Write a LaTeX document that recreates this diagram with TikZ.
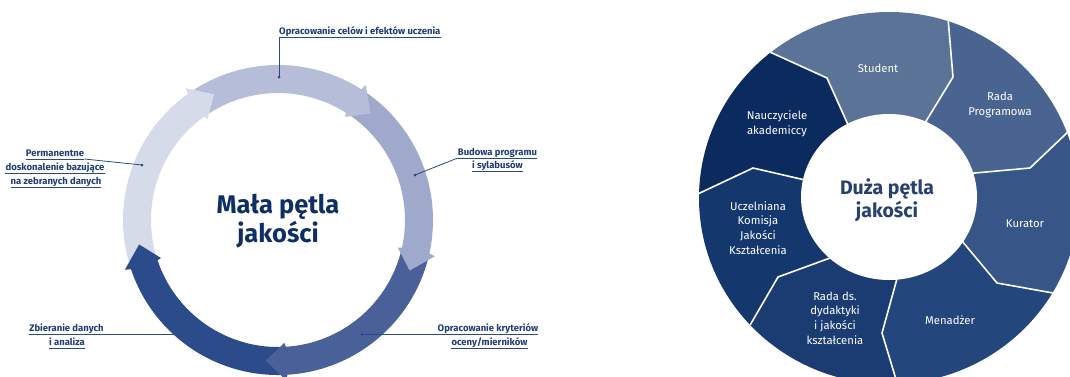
\documentclass[tikz,border=0pt]{standalone}
\usepackage{fontspec}
\setmainfont{Fira Sans}
\usetikzlibrary{calc}
\definecolor{labelc}{HTML}{1F3D75}
\definecolor{linec}{HTML}{2A4A80}
\definecolor{titlec}{HTML}{0E2E68}
\definecolor{titlecb}{HTML}{26406F}
\definecolor{ringA}{HTML}{D6DBEA}
\definecolor{ringB}{HTML}{B5BDD9}
\definecolor{ringC}{HTML}{9FA9CC}
\definecolor{ringD}{HTML}{4A6098}
\definecolor{ringE}{HTML}{2C4B8B}
\definecolor{segA}{HTML}{5A7396}
\definecolor{segB}{HTML}{4A6491}
\definecolor{segC}{HTML}{375587}
\definecolor{segD}{HTML}{23467D}
\definecolor{segE}{HTML}{1A3C73}
\definecolor{segF}{HTML}{14376E}
\definecolor{segG}{HTML}{0B2B5F}
\begin{document}
\begin{tikzpicture}[x=1pt,y=-1pt,
  lbl/.style={font=\fontsize{9.5}{10}\selectfont\bfseries, text=labelc, inner sep=0pt, anchor=base},
  ul/.style={draw=linec, line width=0.8pt},
  dot/.style={circle, fill=linec, inner sep=0pt, minimum size=3pt},
  seglbl/.style={font=\fontsize{11.3}{14.7}\selectfont, text=white, align=center, inner sep=0pt},
  sepline/.style={draw=white, line width=1.6pt, line join=round},
  ]
\useasboundingbox (0,0) rectangle (1070,376);
\fill[white] (0,0) rectangle (1070,376);

% ---------------- left: small loop ----------------
\begin{scope}[shift={(278pt,-220pt)}, y=1pt]
  % bodies
  \foreach \s/\b/\c in {198/125/ringA, 125/57/ringB, 57/-13/ringC, -13/-87/ringD, -87/-162/ringE}{
    \fill[\c] (\s:127) arc[start angle=\s, end angle=\b, radius=127]
      -- (\b:155) arc[start angle=\b, end angle=\s, radius=155] -- cycle;
  }
  % heads
  \foreach \b/\t/\c in {125/117/ringA, 57/49/ringB, -13/-21/ringC, -87/-95/ringD, -162/-170/ringE}{
    \fill[\c] (\b+0.5:127) -- (\b:123) -- (\t:141) -- (\b:161) -- (\b+0.5:155) -- cycle;
  }
\end{scope}
\node[font=\fontsize{25.5}{29}\selectfont\bfseries, text=titlec, align=center] (T1) at (278,221) {Mała pętla\\jakości};

% labels
\node[lbl, anchor=base west] (t1) at (279,34.5) {Opracowanie celów i efektów uczenia};
\node[dot] (d1) at (279,77) {};
\draw[ul] ([yshift=-3pt]t1.base west) -- ([yshift=-3pt]t1.base east);
\draw[ul] ([yshift=-3pt]t1.base west) -- (d1.center);

\node[lbl] (t2a) at (497.5,155) {Budowa programu};
\node[lbl] (t2b) at (497.5,168) {i sylabusów};
\node[dot] (d2) at (415,175) {};
\draw[ul] ([yshift=-3pt]t2a.base west) -- ([yshift=-3pt]t2a.base east);
\draw[ul] ([yshift=-3pt]t2b.base west) -- ([yshift=-3pt]t2b.base east);
\draw[ul] (d2.center) -- ([yshift=-3pt]t2a.base west);

\node[lbl] (t3a) at (55,156) {Permanentne};
\node[lbl] (t3b) at (55,170) {doskonalenie bazujące};
\node[lbl] (t3c) at (56,184) {na zebranych danych};
\node[dot] (d3) at (142,165) {};
\draw[ul] ([yshift=-3pt]t3a.base west) -- ([yshift=-3pt]t3a.base east);
\draw[ul] ([yshift=-3pt]t3b.base west) -- ([yshift=-3pt]t3b.base east);
\draw[ul] ([yshift=-3pt]t3c.base west) -- ([yshift=-3pt]t3c.base east);
\draw[ul] ([yshift=-3pt]t3a.base east) -- (d3.center);

\node[lbl] (t4a) at (66.5,331) {Zbieranie danych};
\node[lbl] (t4b) at (67,345) {i analiza};
\node[dot] (d4) at (195,334) {};
\draw[ul] ([yshift=-3pt]t4a.base west) -- (d4.center);
\draw[ul] ([yshift=-3pt]t4b.base west) -- ([yshift=-3pt]t4b.base east);

\node[lbl] (t5a) at (488,331) {Opracowanie kryteriów};
\node[lbl] (t5b) at (489.5,345) {oceny/mierników};
\node[dot] (d5) at (362,334) {};
\draw[ul] (d5.center) -- ([yshift=-3pt]t5a.base east);
\draw[ul] ([yshift=-3pt]t5b.base west) -- ([yshift=-3pt]t5b.base east);

% ---------------- right: big loop ----------------
\coordinate (C) at (889,198);
\coordinate (i1) at (850.4,130);  \coordinate (m1) at (827,78);   \coordinate (o1) at (744.5,40.5);
\coordinate (i2) at (920.5,130.3); \coordinate (m2) at (953,77);  \coordinate (o2) at (945.5,-11.5);
\coordinate (i3) at (953,175);    \coordinate (m3) at (1030,168); \coordinate (o3) at (1110,92);
\coordinate (i4) at (955,232.6);  \coordinate (m4) at (997,283);  \coordinate (o4) at (1109,303);
\coordinate (i5) at (902.8,257.6); \coordinate (m5) at (882,333); \coordinate (o5) at (908,419);
\coordinate (i6) at (845.6,252.3); \coordinate (m6) at (778,277); \coordinate (o6) at (728,363);
\coordinate (i7) at (820.6,183.6); \coordinate (m7) at (753,168); \coordinate (o7) at (651,216);
\coordinate (f1) at (794,-191);
\coordinate (f2) at (1145,-110);
\coordinate (f3) at (1289,198);
\coordinate (f4) at (1117,527);
\coordinate (f5) at (754,575);
\coordinate (f6) at (527,367);
\coordinate (f7) at (517,51);
\begin{scope}
  \clip (889,198) ellipse [x radius=190, y radius=186];
  \fill[segA] (C) -- (i1) -- (m1) -- (o1) -- (f1) -- (o2) -- (m2) -- (i2) -- cycle;
  \fill[segB] (C) -- (i2) -- (m2) -- (o2) -- (f2) -- (o3) -- (m3) -- (i3) -- cycle;
  \fill[segC] (C) -- (i3) -- (m3) -- (o3) -- (f3) -- (o4) -- (m4) -- (i4) -- cycle;
  \fill[segD] (C) -- (i4) -- (m4) -- (o4) -- (f4) -- (o5) -- (m5) -- (i5) -- cycle;
  \fill[segE] (C) -- (i5) -- (m5) -- (o5) -- (f5) -- (o6) -- (m6) -- (i6) -- cycle;
  \fill[segF] (C) -- (i6) -- (m6) -- (o6) -- (f6) -- (o7) -- (m7) -- (i7) -- cycle;
  \fill[segG] (C) -- (i7) -- (m7) -- (o7) -- (f7) -- (o1) -- (m1) -- (i1) -- cycle;
  \foreach \k in {1,...,7}{
    \draw[sepline] (i\k) -- (m\k) -- (o\k);
  }
\end{scope}
\fill[white] (889,197) ellipse [x radius=88, y radius=83];
\node[font=\fontsize{19.5}{23}\selectfont\bfseries, text=titlecb, align=center] (T2) at (887,200) {Duża pętla\\jakości};

\node[seglbl] (s1) at (878,68) {Student};
\node[seglbl] (s2) at (1000,105) {Rada\\Programowa};
\node[seglbl] (s3) at (1025,224) {Kurator};
\node[seglbl] (s4) at (950,320) {Menadżer};
\node[seglbl] (s5) at (835,318) {Rada ds.\\dydaktyki\\i jakości\\kształcenia};
\node[seglbl] (s6) at (758,228) {Uczelniana\\Komisja\\Jakości\\Kształcenia};
\node[seglbl] (s7) at (777,124) {Nauczyciele\\akademiccy};
\end{tikzpicture}
\end{document}
